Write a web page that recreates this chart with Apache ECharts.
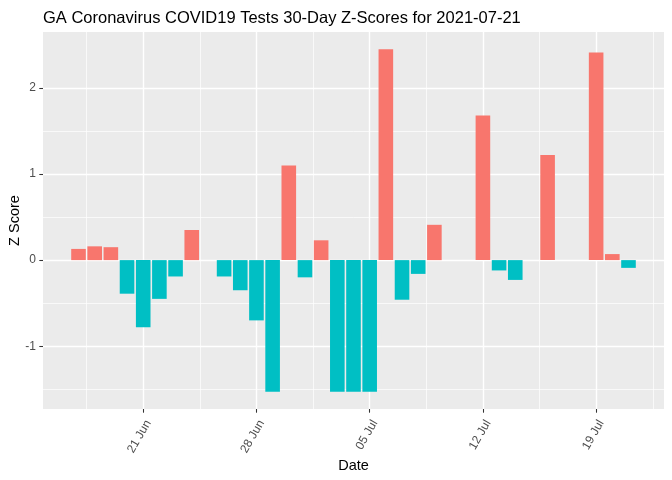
<!DOCTYPE html>
<html>
<head>
<meta charset="utf-8">
<script src="https://cdn.jsdelivr.net/npm/echarts@6/dist/echarts.min.js"></script>
<style>
html, body { margin: 0; padding: 0; background: #fff; }
#main { width: 672px; height: 480px; }
</style>
</head>
<body>
<div id="main"></div>
<script>
// daily z-scores (days with no bar are left out)
var dates = [
    '2021-06-17', '2021-06-18', '2021-06-19', '2021-06-20', '2021-06-21', '2021-06-22',
    '2021-06-23', '2021-06-24', '2021-06-26', '2021-06-27', '2021-06-28', '2021-06-29',
    '2021-06-30', '2021-07-01', '2021-07-02', '2021-07-03', '2021-07-04', '2021-07-05',
    '2021-07-06', '2021-07-07', '2021-07-08', '2021-07-09', '2021-07-12', '2021-07-13',
    '2021-07-14', '2021-07-16', '2021-07-19', '2021-07-20', '2021-07-21'
];
var zScores = [
    0.13, 0.16, 0.15, -0.39, -0.78, -0.45,
    -0.19, 0.35, -0.19, -0.35, -0.70, -1.53,
    1.10, -0.20, 0.23, -1.53, -1.53, -1.53,
    2.45, -0.46, -0.16, 0.41, 1.68, -0.12,
    -0.23, 1.22, 2.41, 0.07, -0.09
];
var tickDates = ['2021-06-21', '2021-06-28', '2021-07-05', '2021-07-12', '2021-07-19'];
var tickLabels = ['21 Jun', '28 Jun', '05 Jul', '12 Jul', '19 Jul'];
var minorTickDates = ['2021-06-17', '2021-06-24', '2021-07-01', '2021-07-08', '2021-07-15', '2021-07-22']; // +12h
var yTicks = [-1, 0, 1, 2];
var yMinorTicks = [-1.5, -0.5, 0.5, 1.5];

var posColor = '#F8766D';
var negColor = '#00BFC4';
var font = '"Liberation Sans", Arial, sans-serif';

function dayNum(s) {
    var p = s.split('-');
    return Date.UTC(+p[0], +p[1] - 1, +p[2]) / 864e5;
}

var xs = dates.map(dayNum);
var majorX = tickDates.map(dayNum);
var minorX = minorTickDates.map(function (d) { return dayNum(d) + 0.5; });

// ggplot style limits: bar width 0.9, 5% expansion
var xLo = Math.min.apply(null, xs) - 0.45;
var xHi = Math.max.apply(null, xs) + 0.45;
var xPad = (xHi - xLo) * 0.05;
var yLo = Math.min(0, Math.min.apply(null, zScores));
var yHi = Math.max(0, Math.max.apply(null, zScores));
var yPad = (yHi - yLo) * 0.05;

var barData = [];
for (var i = 0; i < xs.length; i++) {
    barData.push([xs[i], zScores[i]]);
}

var myChart = echarts.init(document.getElementById('main'));

var option = {
    backgroundColor: '#fff',
    animation: false,
    title: {
        text: 'GA Coronavirus COVID19 Tests 30-Day Z-Scores for 2021-07-21',
        left: 43,
        top: 10,
        padding: 0,
        textStyle: { fontFamily: font, fontSize: 16.5, fontWeight: 'normal', color: '#000' }
    },
    grid: {
        left: 43, right: 8, top: 32, bottom: 71,
        outerBoundsMode: 'none',
        containLabel: false,
        show: true, backgroundColor: '#EBEBEB', borderWidth: 0
    },
    xAxis: [{
        type: 'value',
        min: xLo - xPad,
        max: xHi + xPad,
        name: 'Date',
        nameLocation: 'middle',
        nameGap: 49,
        nameMoveOverlap: false,
        nameTextStyle: { fontFamily: font, fontSize: 14.5, color: '#000' },
        axisLine: { show: false, onZero: false },
        axisTick: { show: true, length: 3.7, lineStyle: { color: '#333', width: 1.07 }, customValues: majorX },
        axisLabel: {
            customValues: majorX,
            rotate: 60,
            margin: 9,
            verticalAlign: 'top',
            color: '#4D4D4D',
            fontFamily: font,
            fontSize: 12,
            formatter: function (v) {
                var k = majorX.indexOf(v);
                return k >= 0 ? tickLabels[k] : '';
            }
        },
        splitLine: { show: true, lineStyle: { color: '#fff', width: 1.4 } }
    }, {
        type: 'value',
        min: xLo - xPad,
        max: xHi + xPad,
        position: 'bottom',
        axisLine: { show: false, onZero: false },
        axisTick: { show: false, customValues: minorX },
        axisLabel: { show: false, customValues: minorX },
        splitLine: { show: true, lineStyle: { color: '#fff', width: 0.7 } }
    }],
    yAxis: [{
        type: 'value',
        min: yLo - yPad,
        max: yHi + yPad,
        name: 'Z Score',
        nameLocation: 'middle',
        nameGap: 21,
        nameMoveOverlap: false,
        nameTextStyle: { fontFamily: font, fontSize: 14.5, color: '#000' },
        axisLine: { show: false, onZero: false },
        axisTick: { show: true, length: 3.7, lineStyle: { color: '#333', width: 1.07 }, customValues: yTicks },
        axisLabel: { customValues: yTicks, margin: 7, color: '#4D4D4D', fontFamily: font, fontSize: 12 },
        splitLine: { show: true, lineStyle: { color: '#fff', width: 1.4 } }
    }, {
        type: 'value',
        min: yLo - yPad,
        max: yHi + yPad,
        position: 'left',
        axisLine: { show: false, onZero: false },
        axisTick: { show: false, customValues: yMinorTicks },
        axisLabel: { show: false, customValues: yMinorTicks },
        splitLine: { show: true, lineStyle: { color: '#fff', width: 0.7 } }
    }],
    series: [{
        type: 'bar',
        xAxisIndex: 0,
        yAxisIndex: 0,
        barWidth: 14.6,
        data: barData,
        itemStyle: {
            color: function (p) { return p.value[1] >= 0 ? posColor : negColor; }
        }
    }]
};

myChart.setOption(option);
</script>
</body>
</html>
